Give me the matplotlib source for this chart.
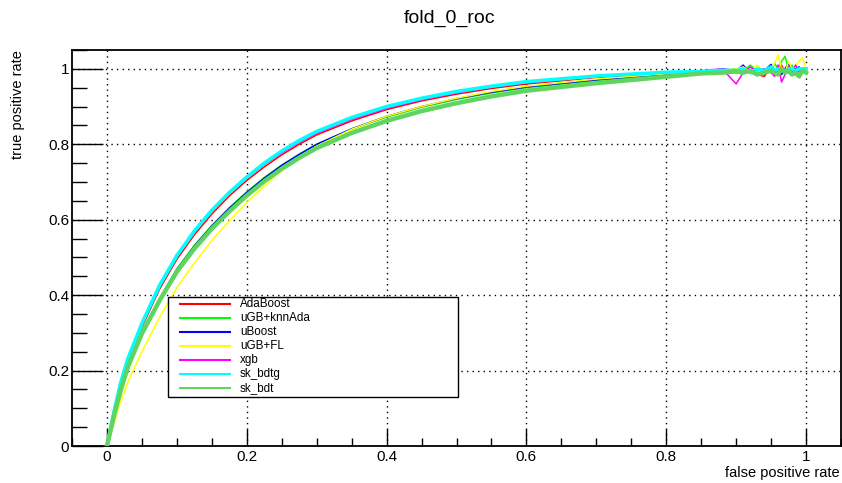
import matplotlib
matplotlib.use("Agg")
import matplotlib.pyplot as plt
from matplotlib.lines import Line2D
from matplotlib.patches import Rectangle
from matplotlib.ticker import MultipleLocator

plt.rcParams['font.family'] = ['Liberation Sans', 'DejaVu Sans']

# ---- data ----
fpr = [0, 0.01, 0.02, 0.03, 0.05, 0.075, 0.1, 0.125, 0.15, 0.175, 0.2, 0.225, 0.25, 0.275,
       0.3, 0.35, 0.4, 0.45, 0.5, 0.55, 0.6, 0.7, 0.8,
       0.85, 0.88, 0.9, 0.91, 0.92, 0.93, 0.94, 0.95, 0.955, 0.96, 0.965, 0.97, 0.975,
       0.98, 0.985, 0.99, 0.995, 1.0]

models = ["AdaBoost", "uGB+knnAda", "uBoost", "uGB+FL", "xgb", "sk_bdtg", "sk_bdt"]

tpr_adaboost = [0, 0.09, 0.165, 0.225, 0.315, 0.415, 0.495, 0.56, 0.615, 0.663, 0.704, 0.74,
                0.772, 0.8, 0.825, 0.862, 0.892, 0.915, 0.933, 0.948, 0.96, 0.977, 0.989,
                0.993, 0.996, 0.992, 1.0, 0.99, 0.985, 0.98, 1.003, 0.99, 0.995, 1.01, 0.99,
                1.0, 1.005, 0.985, 0.995, 1.0, 1.0]
tpr_ugb_knnada = [0, 0.08, 0.15, 0.21, 0.30, 0.39, 0.47, 0.532, 0.585, 0.632, 0.674, 0.712,
                  0.745, 0.774, 0.8, 0.84, 0.872, 0.898, 0.919, 0.936, 0.95, 0.969, 0.984,
                  0.99, 0.995, 1.0, 0.992, 1.01, 0.995, 1.0, 0.99, 1.015, 1.0, 1.02, 1.033,
                  1.0, 1.01, 0.99, 1.005, 0.995, 1.0]
tpr_uboost = [0, 0.08, 0.148, 0.208, 0.298, 0.388, 0.468, 0.53, 0.583, 0.63, 0.672, 0.71,
              0.744, 0.773, 0.8, 0.841, 0.874, 0.9, 0.921, 0.938, 0.952, 0.971, 0.986,
              0.99, 1.0, 0.995, 1.01, 0.99, 1.0, 0.995, 1.012, 0.99, 1.0, 0.985, 1.0, 1.015,
              0.995, 1.0, 1.005, 0.99, 1.0]
tpr_ugb_fl = [0, 0.06, 0.12, 0.17, 0.25, 0.34, 0.42, 0.485, 0.545, 0.597, 0.645, 0.69,
              0.73, 0.765, 0.795, 0.84, 0.874, 0.9, 0.922, 0.94, 0.954, 0.973, 0.987,
              0.993, 0.99, 1.0, 1.005, 0.995, 1.01, 0.99, 1.0, 1.015, 1.037, 1.0, 0.99,
              1.02, 1.0, 1.01, 1.02, 1.03, 1.0]
tpr_xgb = [0, 0.095, 0.175, 0.235, 0.325, 0.425, 0.503, 0.567, 0.622, 0.67, 0.71, 0.746,
           0.777, 0.805, 0.829, 0.866, 0.895, 0.918, 0.936, 0.951, 0.963, 0.979, 0.99,
           0.995, 1.0, 0.96, 0.99, 1.005, 0.995, 1.0, 0.99, 0.98, 1.01, 0.965, 0.985,
           1.005, 0.99, 1.01, 0.995, 1.0, 1.0]
tpr_sk_bdtg = [0, 0.09, 0.17, 0.232, 0.325, 0.425, 0.505, 0.57, 0.625, 0.672, 0.713, 0.75,
               0.782, 0.81, 0.834, 0.871, 0.9, 0.922, 0.94, 0.954, 0.966, 0.981, 0.991,
               0.993, 0.996, 0.995, 1.0, 0.99, 1.0, 0.995, 1.005, 0.995, 1.0, 1.0, 0.99,
               1.0, 1.0, 0.995, 1.0, 1.0, 1.0]
tpr_sk_bdt = [0, 0.08, 0.15, 0.21, 0.298, 0.385, 0.462, 0.523, 0.576, 0.622, 0.664, 0.702,
              0.735, 0.764, 0.79, 0.83, 0.862, 0.888, 0.909, 0.927, 0.942, 0.962, 0.979,
              0.988, 0.99, 0.993, 0.99, 0.995, 0.985, 0.99, 0.995, 0.99, 0.985, 1.0, 0.99,
              0.995, 0.985, 0.99, 0.98, 0.995, 0.99]

series = [tpr_adaboost, tpr_ugb_knnada, tpr_uboost, tpr_ugb_fl, tpr_xgb, tpr_sk_bdtg, tpr_sk_bdt]
colors = ["#ff0000", "#00ff00", "#0000ff", "#ffff00", "#ff00ff", "#00ffff", "#5fd45f"]
widths = [1.1, 1.1, 1.1, 1.1, 1.1, 2.6, 3.2]

W, H = 842, 483
fig = plt.figure(figsize=(W / 100, H / 100), dpi=100)
ax = fig.add_axes([72 / W, 1 - 446 / H, (841 - 72) / W, (446 - 50) / H])

for name, y, c, lw in zip(models, series, colors, widths):
    ax.plot(fpr, y, color=c, lw=lw, solid_joinstyle='round', zorder=3)

ax.set_xlim(-0.05, 1.05)
ax.set_ylim(0, 1.05)

ax.xaxis.set_major_locator(MultipleLocator(0.2))
ax.xaxis.set_minor_locator(MultipleLocator(0.05))
ax.yaxis.set_major_locator(MultipleLocator(0.2))
ax.yaxis.set_minor_locator(MultipleLocator(0.05))


def fmt(v, p):
    if abs(v) < 1e-9:
        return "0"
    if abs(v - 1) < 1e-9:
        return "1"
    return f"{v:.1f}"


ax.xaxis.set_major_formatter(plt.FuncFormatter(fmt))
ax.yaxis.set_major_formatter(plt.FuncFormatter(fmt))

ax.tick_params(axis='x', which='major', direction='in', length=12, width=1, labelsize=11, pad=3, top=False)
ax.tick_params(axis='x', which='minor', direction='in', length=6, width=1, top=False)
ax.tick_params(axis='y', which='major', direction='in', length=22, width=1, labelsize=11, pad=2, right=False)
ax.tick_params(axis='y', which='minor', direction='in', length=11, width=1, right=False)

ax.grid(True, which='major', color='black', linestyle=(0, (1, 3)), linewidth=1.0, zorder=1)
for s in ax.spines.values():
    s.set_linewidth(1.3)
    s.set_color('black')

fig.text(450 / W, 1 - 18 / H, "fold_0_roc", ha='center', va='center', fontsize=14)
fig.text(840 / W, 1 - 473 / H, "false positive rate", ha='right', va='center', fontsize=10.5)
fig.text(18 / W, 1 - 50 / H, "true positive rate", rotation=90, ha='center', va='top', fontsize=10.5)

# ---- legend (drawn manually in figure pixel coordinates) ----
def fx(px):
    return px / W


def fy(py):
    return 1 - py / H


fig.patches.append(Rectangle((fx(168), fy(397)), fx(458) - fx(168), fy(297) - fy(397),
                             transform=fig.transFigure, facecolor='white', edgecolor='black',
                             linewidth=1.0, zorder=10))
for i, (name, c) in enumerate(zip(models, colors)):
    yc = 304 + i * 14
    fig.lines.append(Line2D([fx(180), fx(230)], [fy(yc), fy(yc)], transform=fig.transFigure,
                            color=c, lw=1.5, zorder=11))
    fig.text(fx(240), fy(yc), name, ha='left', va='center', fontsize=8.4, zorder=12)

fig.savefig("out.png", dpi=100)
